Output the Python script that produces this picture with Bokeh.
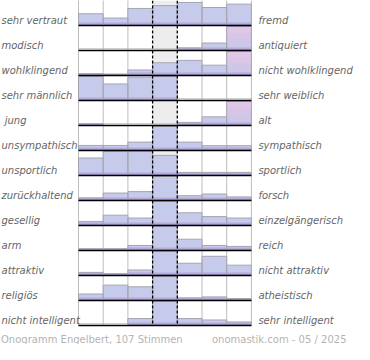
from bokeh.plotting import figure
from bokeh.models import Range1d
from bokeh.core.properties import value
from bokeh.embed import file_html
from bokeh.resources import INLINE

# ---- data ----
left_labels = ["sehr vertraut", "modisch", "wohlklingend", "sehr männlich", "\u00a0jung",
               "unsympathisch", "unsportlich", "zurückhaltend", "gesellig", "arm",
               "attraktiv", "religiös", "nicht intelligent"]
right_labels = ["fremd", "antiquiert", "nicht wohlklingend", "sehr weiblich", "alt",
                "sympathisch", "sportlich", "forsch", "einzelgängerisch", "reich",
                "nicht attraktiv", "atheistisch", "sehr intelligent"]
# percent of full row height per scale step (values > 100 are capped, drawn pink)
row_sehr_vertraut = [49, 31, 71, 83, 96, 75, 89]
row_modisch = [0, 0, 0, 0, 11, 31, 110]
row_wohlklingend = [7, 4, 23, 53, 63, 43, 110]
row_maennlich = [100, 69, 97, 100, 0, 0, 0]
row_jung = [7, 0, 0, 0, 13, 36, 110]
row_unsympathisch = [21, 21, 35, 100, 35, 20, 20]
row_unsportlich = [73, 100, 100, 84, 13, 13, 13]
row_zurueckhaltend = [11, 31, 37, 100, 20, 27, 15]
row_gesellig = [17, 43, 31, 100, 53, 37, 31]
row_arm = [7, 7, 21, 100, 47, 21, 17]
row_attraktiv = [13, 7, 23, 100, 51, 80, 43]
row_religioes = [27, 64, 57, 100, 11, 15, 8]
row_nicht_intelligent = [0, 0, 29, 100, 29, 23, 15]
rows = [row_sehr_vertraut, row_modisch, row_wohlklingend, row_maennlich, row_jung,
        row_unsympathisch, row_unsportlich, row_zurueckhaltend, row_gesellig, row_arm,
        row_attraktiv, row_religioes, row_nicht_intelligent]
footer_left = "Onogramm Engelbert, 107 Stimmen"
footer_right = "onomastik.com - 05 / 2025"

# ---- layout ----
W, H = 354, 344
COL_PX = 24.7
ROW_PX = 25.0
PLOT_LEFT_PX = 78
NCOL = 7
NROW = len(rows)
FULL = 0.96

x0 = -PLOT_LEFT_PX / COL_PX
x1 = (W - PLOT_LEFT_PX) / COL_PX
ymax = H / ROW_PX

p = figure(width=W, height=H, output_backend="svg", toolbar_location=None,
           x_range=Range1d(x0, x1), y_range=Range1d(ymax, 0),
           min_border=0, min_border_left=0, min_border_right=0,
           min_border_top=0, min_border_bottom=0)
p.xaxis.visible = False
p.yaxis.visible = False
p.grid.visible = False
p.outline_line_color = None
p.background_fill_color = "white"
p.border_fill_color = "white"

# centre column
p.quad(left=[3], right=[4], top=[0], bottom=[NROW], fill_color="#ededed", line_color=None)

# dotted verticals
dx = [c for c in range(NCOL + 1) if c not in (3, 4)]
p.segment(x0=dx, x1=dx, y0=[0] * len(dx), y1=[NROW] * len(dx),
          line_color="#7a7a7a", line_width=1, line_dash="1 1")

# grey shadow lines above baselines
bl = [i + 1 for i in range(NROW)]
p.segment(x0=[0] * NROW, x1=[NCOL] * NROW, y0=[b - 0.07 for b in bl], y1=[b - 0.07 for b in bl],
          line_color="#c0c0c0", line_width=1)

# bars
L, R, B, T = [], [], [], []
pink = {"l": [], "r": [], "b": [], "t": []}
for i, vals in enumerate(rows):
    base = i + 1
    for c, v in enumerate(vals):
        h = min(v, 100) / 100 * FULL
        L.append(c); R.append(c + 1); B.append(base); T.append(base - h)
        if v > 100:
            pink["l"].append(c); pink["r"].append(c + 1)
            pink["b"].append(base); pink["t"].append(base - h)

p.quad(left=L, right=R, bottom=B, top=T, fill_color="#c6cbeb", line_color=None)
# pink gradient for capped bars
pink_cols = ["#e0c7e7", "#d9c6e7", "#d1c6e8", "#cac8e9"]
for k, col in enumerate(pink_cols):
    frac = 1 - k * 0.25
    p.quad(left=pink["l"], right=pink["r"], bottom=pink["b"],
           top=[b - (b - t) * frac for b, t in zip(pink["b"], pink["t"])],
           fill_color=col, line_color=None)
# bottom purple gradient
for hh, col in [(0.13, "#bcb5e0"), (0.08, "#ada2d6"), (0.04, "#9d8ec9")]:
    p.quad(left=L, right=R, bottom=B, top=[max(t, b - hh) for b, t in zip(B, T)],
           fill_color=col, line_color=None)
# outlines
p.quad(left=L, right=R, bottom=B, top=T, fill_color=None, line_color="#a5a5b2", line_width=1)

# baselines
p.segment(x0=[0] * NROW, x1=[NCOL] * NROW, y0=bl, y1=bl, line_color="black", line_width=1.6)

# dashed centre borders
p.segment(x0=[3, 4], x1=[3, 4], y0=[0, 0], y1=[NROW, NROW],
          line_color="black", line_width=1.3, line_dash="3 2")

# labels
ly = [i + 0.8 for i in range(NROW)]
p.text(x=[x0 + 1 / COL_PX] * NROW, y=ly, text=left_labels,
       text_font=value("DejaVu Sans"), text_font_style="italic", text_font_size="10px",
       text_color="#666666", text_align="left", text_baseline="middle")
p.text(x=[NCOL + 7 / COL_PX] * NROW, y=ly, text=right_labels,
       text_font=value("DejaVu Sans"), text_font_style="italic", text_font_size="10px",
       text_color="#666666", text_align="left", text_baseline="middle")

# footer
fy = NROW + 14 / ROW_PX
p.text(x=[x0 + 0.5 / COL_PX], y=[fy], text=[footer_left],
       text_font=value("DejaVu Sans"), text_font_size="10px",
       text_color="#b4b4b4", text_align="left", text_baseline="middle")
p.text(x=[x0 + 346 / COL_PX], y=[fy], text=[footer_right],
       text_font=value("DejaVu Sans"), text_font_size="10px",
       text_color="#b4b4b4", text_align="right", text_baseline="middle")

open("out.html", "w").write(file_html(p, INLINE))
